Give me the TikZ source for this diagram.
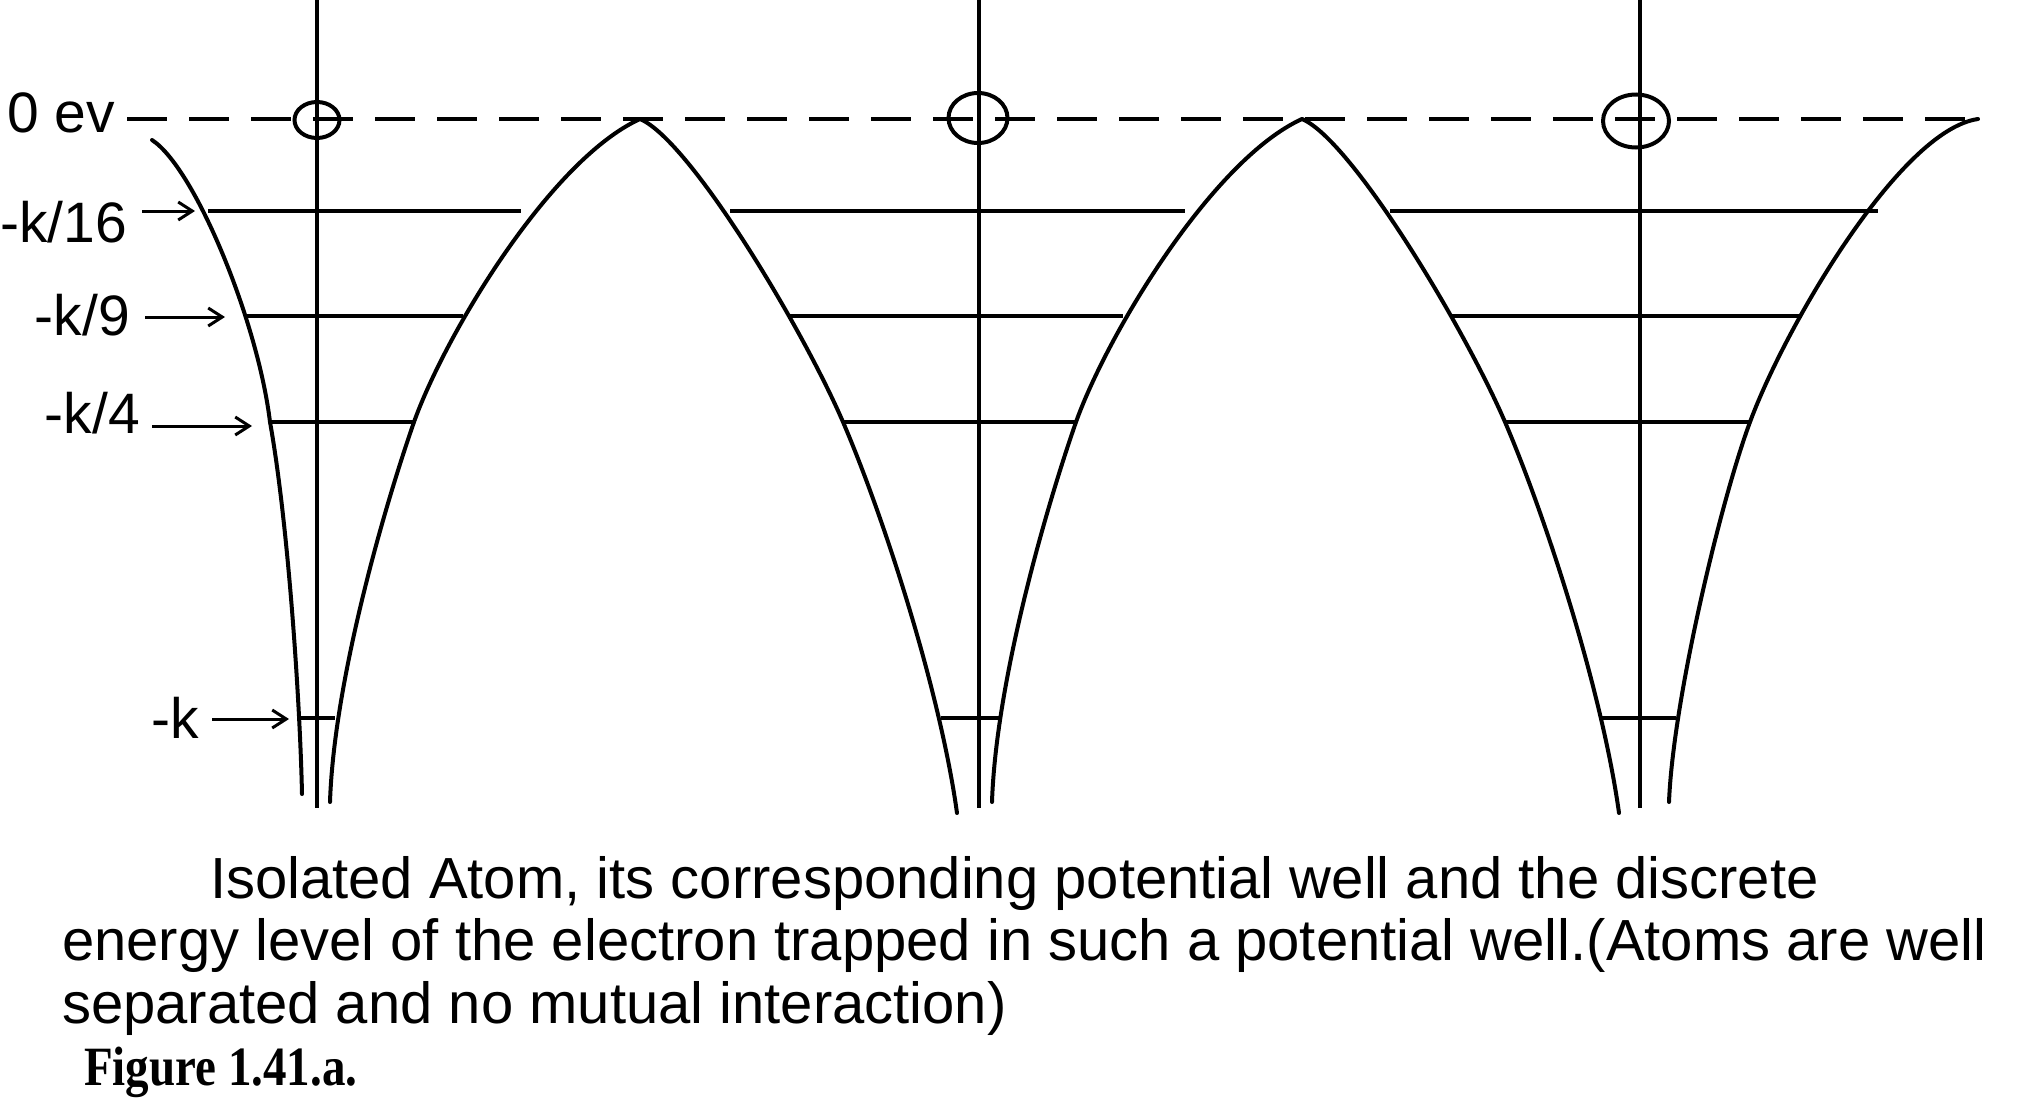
\documentclass[tikz,border=0pt]{standalone}
\usepackage{fontspec}
\setmainfont{Liberation Sans}
\newfontfamily\figfont{Liberation Serif}
\usetikzlibrary{arrows.meta,shapes.geometric}
\begin{document}
\begin{tikzpicture}[x=1pt,y=-1pt,
  curve/.style={line width=4pt,line cap=round},
  vline/.style={line width=4.2pt},
  level/.style={line width=3.6pt},
  zero/.style={line width=4.4pt,dash pattern=on 40pt off 22pt},
  atom/.style={draw,ellipse,line width=4pt,inner sep=0pt},
  lab/.style={inner sep=0pt,outer sep=0pt,font=\fontsize{57}{68}\selectfont},
  captext/.style={inner sep=0pt,outer sep=0pt,anchor=base west,font=\fontsize{58}{70}\selectfont},
  arr/.style={line width=3pt,-{Straight Barb[length=14pt,width=18pt,line width=3pt]}}]
\useasboundingbox (0,0) rectangle (2018,1100);
\fill[white] (0,0) rectangle (2018,1100);

% zero-energy dashed line
\coordinate (z0) at (127,119);
\coordinate (z1) at (1978,119);
\draw[zero] (z0) -- (z1);

% atom axes
\foreach \x/\n in {317/1,979/2,1640/3}{
  \coordinate (t\n) at (\x,0);
  \coordinate (b\n) at (\x,808);
  \draw[vline] (t\n) -- (b\n);
}
% atoms
\node[atom,minimum width=45pt,minimum height=36pt] (atomA) at (317,120) {};
\node[atom,minimum width=59pt,minimum height=50pt] (atomB) at (978,118) {};
\node[atom,minimum width=66pt,minimum height=53pt] (atomC) at (1636,121) {};

% potential curves
\draw[curve] (152,140) .. controls (195,168) and (258,322) .. (270,422)
                       .. controls (288,522) and (300,700) .. (302,794);
\draw[curve] (330,802) .. controls (334,680) and (385,505) .. (414,422)
                       .. controls (445,335) and (550,160) .. (640,119);
\draw[curve] (640,119) .. controls (690,140) and (803,329) .. (843,422)
                       .. controls (883,515) and (940,690) .. (957,813);
\draw[curve] (992,802) .. controls (996,680) and (1047,505) .. (1076,422)
                       .. controls (1107,335) and (1212,160) .. (1302,119);
\draw[curve] (1302,119) .. controls (1352,140) and (1465,329) .. (1505,422)
                        .. controls (1545,515) and (1602,690) .. (1619,813);
\draw[curve] (1669,802) .. controls (1673,700) and (1721,500) .. (1750,422)
                        .. controls (1785,327) and (1900,130) .. (1978,119);

% energy levels
\foreach \y/\a/\b/\c/\d/\e/\f in {
  211/208/521/730/1185/1390/1878,
  316/245/463/789/1123/1452/1802,
  422/270/414/843/1076/1505/1750,
  718/301/335/941/999/1602/1676}{
  \draw[level] (\a,\y) -- (\b,\y);
  \draw[level] (\c,\y) -- (\d,\y);
  \draw[level] (\e,\y) -- (\f,\y);
}

% labels
\node[lab,anchor=base east] (l0) at (115,132) {0 ev};
\node[lab,anchor=base east] (l16) at (127,242) {-k/16};
\node[lab,anchor=base east] (l9) at (130,335) {-k/9};
\node[lab,anchor=base east] (l4) at (140,433) {-k/4};
\node[lab,anchor=base east] (l1) at (199,738) {-k};

\coordinate (s16) at (142,211); \coordinate (e16) at (195,211);
\coordinate (s9) at (145,317);  \coordinate (e9) at (225,317);
\coordinate (s4) at (152,426);  \coordinate (e4) at (252,426);
\coordinate (s1) at (212,719);  \coordinate (e1) at (289,719);
\draw[arr] (s16) -- (e16);
\draw[arr] (s9) -- (e9);
\draw[arr] (s4) -- (e4);
\draw[arr] (s1) -- (e1);

% caption
\node[captext] (c1) at (210,898) {Isolated Atom, its corresponding potential well and the discrete};
\node[captext] (c2) at (62,960) {energy level of the electron trapped in such a potential well.(Atoms are well};
\node[captext] (c3) at (62,1023) {separated and no mutual interaction)};
\node[inner sep=0pt,anchor=base west] (fig) at (84,1085) {\scalebox{1}[1.18]{\figfont\bfseries\fontsize{47}{56}\selectfont Figure 1.41.a.}};
\end{tikzpicture}
\end{document}
